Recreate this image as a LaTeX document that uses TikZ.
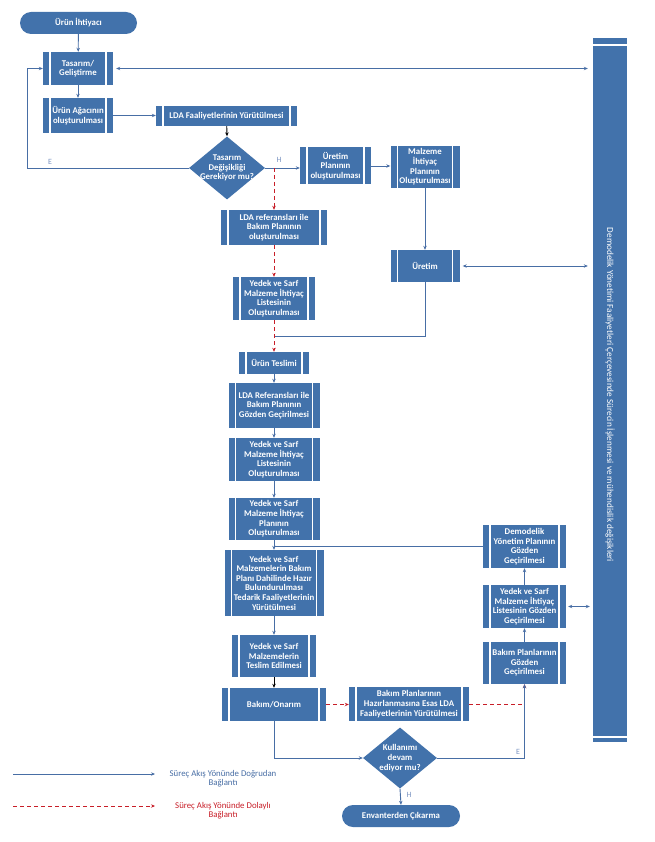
\documentclass[tikz,border=0pt]{standalone}
\usepackage{fontspec}
\setmainfont{Carlito}
\usetikzlibrary{shapes.geometric,arrows.meta}
\definecolor{boxblue}{RGB}{66,114,171}
\definecolor{lineblue}{RGB}{72,110,165}
\definecolor{dashred}{RGB}{200,30,40}
\definecolor{lblblue}{RGB}{125,150,195}
\begin{document}
\begin{tikzpicture}[x=1pt,y=-1pt,
  boxfont/.style={font=\fontsize{8.8}{9.6}\selectfont\bfseries},
  proc/.style={fill=boxblue, text=white, boxfont, align=center, inner sep=0pt,
    path picture={\draw[white,line width=1.2pt]
      ([xshift=7pt]path picture bounding box.north west) -- ([xshift=7pt]path picture bounding box.south west)
      ([xshift=-7pt]path picture bounding box.north east) -- ([xshift=-7pt]path picture bounding box.south east);}},
  term/.style={fill=boxblue, text=white, boxfont, rounded corners=11pt, inner sep=0pt},
  dec/.style={diamond, fill=boxblue, inner sep=0pt},
  dectext/.style={text=white, boxfont, align=center},
  flow/.style={draw=lineblue, line width=0.9pt, -{Stealth[length=4pt,width=3.4pt]}},
  dflow/.style={draw=dashred, line width=0.9pt, dash pattern=on 4pt off 3pt, -{Stealth[length=4pt,width=3.4pt]}},
  kflow/.style={draw=black, line width=0.9pt, -{Stealth[length=4pt,width=3.4pt]}},
  plain/.style={draw=lineblue, line width=0.9pt},
  biflow/.style={draw=lineblue, line width=0.9pt, {Stealth[length=4pt,width=3.4pt]}-{Stealth[length=4pt,width=3.4pt]}},
  yn/.style={text=lblblue, font=\fontsize{8}{9}\selectfont},
  legtext/.style={font=\fontsize{8.8}{9}\selectfont, align=center}
]
\useasboundingbox[fill=white] (0,0) rectangle (654,842);

% nodes
\node[term, minimum width=117, minimum height=22] (start) at (78.5,23) {Ürün İhtiyacı};
\node[proc, minimum width=70, minimum height=33] (tas) at (78,68.5) {Tasarım/\\Geliştirme};
\node[proc, minimum width=70, minimum height=35] (agac) at (78,115.5) {Ürün Ağacının\\oluşturulması};
\node[proc, minimum width=141, minimum height=20] (lda1) at (226.5,116) {LDA Faaliyetlerinin Yürütülmesi};
\node[dec, minimum width=76, minimum height=63,
  label={[dectext]center:{Tasarım\\Değişikliği\\Gerekiyor mu?}}] (d1) at (227,168) {};
\node[proc, minimum width=71, minimum height=37] (upl) at (335.5,166) {Üretim\\Planının\\oluşturulması};
\node[proc, minimum width=69, minimum height=42] (mip) at (425,167) {Malzeme\\İhtiyaç\\Planının\\Oluşturulması};
\node[proc, minimum width=106, minimum height=35] (lda2) at (274,227.5) {LDA referansları ile\\Bakım Planının\\oluşturulması};
\node[proc, minimum width=82, minimum height=43] (yed1) at (274,298.5) {Yedek ve Sarf\\Malzeme İhtiyaç\\Listesinin\\Oluşturulması};
\node[proc, minimum width=69, minimum height=32] (ur) at (425,266) {Üretim};
\node[proc, minimum width=70, minimum height=22] (tes) at (274,363) {Ürün Teslimi};
\node[proc, minimum width=91, minimum height=45] (ldag) at (274,405.5) {LDA Referansları ile\\Bakım Planının\\Gözden Geçirilmesi};
\node[proc, minimum width=91, minimum height=43] (yed2) at (274,459.5) {Yedek ve Sarf\\Malzeme İhtiyaç\\Listesinin\\Oluşturulması};
\node[proc, minimum width=91, minimum height=42] (yplan) at (274,519) {Yedek ve Sarf\\Malzeme İhtiyaç\\Planının\\Oluşturulması};
\node[proc, minimum width=99, minimum height=66] (ted) at (274,583) {Yedek ve Sarf\\Malzemelerin Bakım\\Planı Dahilinde Hazır\\Bulundurulması\\Tedarik Faaliyetlerinin\\Yürütülmesi};
\node[proc, minimum width=84, minimum height=42] (tsl) at (274,656) {Yedek ve Sarf\\Malzemelerin\\Teslim Edilmesi};
\node[proc, minimum width=104, minimum height=33] (bak) at (274,704.5) {Bakım/Onarım};
\node[proc, minimum width=120, minimum height=34] (haz) at (409,704) {Bakım Planlarının\\Hazırlanmasına Esas LDA\\Faaliyetlerinin Yürütülmesi};
\node[dec, minimum width=74, minimum height=61,
  label={[dectext]center:{Kullanımı\\devam\\ediyor mu?}}] (d2) at (400,758) {};
\node[term, minimum width=118, minimum height=22] (env) at (401,816) {Envanterden Çıkarma};
\node[proc, minimum width=83, minimum height=42] (bpg) at (524.5,663) {Bakım Planlarının\\Gözden\\Geçirilmesi};
\node[proc, minimum width=83, minimum height=43] (ylg) at (524.5,606.5) {Yedek ve Sarf\\Malzeme İhtiyaç\\Listesinin Gözden\\Geçirilmesi};
\node[proc, minimum width=83, minimum height=43] (dem) at (524.5,546.5) {Demodelik\\Yönetim Planının\\Gözden\\Geçirilmesi};
\node[fill=boxblue, minimum width=34, minimum height=704, inner sep=0pt,
  path picture={\draw[white,line width=1.2pt]
    ([yshift=-7pt]path picture bounding box.north west) -- ([yshift=-7pt]path picture bounding box.north east)
    ([yshift=5pt]path picture bounding box.south west) -- ([yshift=5pt]path picture bounding box.south east);}] (bar) at (610,390) {};
\node[rotate=-90, text=white, font=\fontsize{9.2}{10}\selectfont] (bart) at ([yshift=-5pt]bar.center) {Demodelik Yönetimi Faaliyetleri Çerçevesinde Sürecin İşlenmesi ve mühendislik değişikleri};

% junction coordinates
\coordinate (hj) at (274,168);
\coordinate (uj) at (274,336);
\coordinate (eL) at (27,168);

% connectors
\draw[flow] (start) -- (tas);
\draw[flow] (tas) -- (agac);
\draw[flow] (agac.east) -- (agac.east -| lda1.west);
\draw[kflow] (lda1) -- (d1.north);
\draw[flow] (d1.west) -- (eL) |- (tas.west);
\node[yn] (e1) at (50,162) {E};
\draw[flow] (d1.east) -- (d1.east -| upl.west);
\node[yn] (h1) at (279,160) {H};
\draw[flow] (upl.east) -- (upl.east -| mip.west);
\draw[flow] (mip) -- (ur);
\draw[biflow, shorten <=3pt, shorten >=5pt] (tas.east) -- (tas.east -| bar.west);
\draw[biflow, shorten <=3pt, shorten >=5pt] (ur.east) -- (ur.east -| bar.west);
\draw[plain] (ur.south) |- (uj);
\draw[dflow] (hj) -- (lda2.north);
\draw[dflow] (lda2) -- (yed1);
\draw[dflow] (yed1) -- (tes);
\draw[flow] (tes) -- (ldag);
\draw[flow] (ldag) -- (yed2);
\draw[flow] (yed2) -- (yplan);
\draw[flow] (yplan) -- (ted);
\draw[plain] (dem.west) -- (dem.west -| yplan.south);
\draw[flow] (ted) -- (tsl);
\draw[kflow] (tsl) -- (bak);
\draw[dflow] (bak.east) -- (bak.east -| haz.west);
\draw[dflow] (haz.east) -| (bpg.south);
\draw[flow] (bak.south) |- (d2.west);
\draw[flow] (d2.east) -| (bpg.south);
\node[yn] (e2) at (518,752) {E};
\draw[flow] (d2.south) -- (env.north);
\node[yn] (h2) at (409,795) {H};
\draw[flow] (bpg) -- (ylg);
\draw[flow] (ylg) -- (dem);
\draw[biflow, shorten <=2pt, shorten >=3pt] (ylg.east) -- (ylg.east -| bar.west);

% legend
\coordinate (l1a) at (13,774);
\coordinate (l1b) at (155,774);
\coordinate (l2a) at (13,806);
\coordinate (l2b) at (155,806);
\draw[flow] (l1a) -- (l1b);
\draw[dflow] (l2a) -- (l2b);
\node[legtext, text=lineblue] (l1t) at (223,779) {Süreç Akış Yönünde Doğrudan\\Bağlantı};
\node[legtext, text=dashred] (l2t) at (223,811) {Süreç Akış Yönünde Dolaylı\\Bağlantı};
\end{tikzpicture}
\end{document}
